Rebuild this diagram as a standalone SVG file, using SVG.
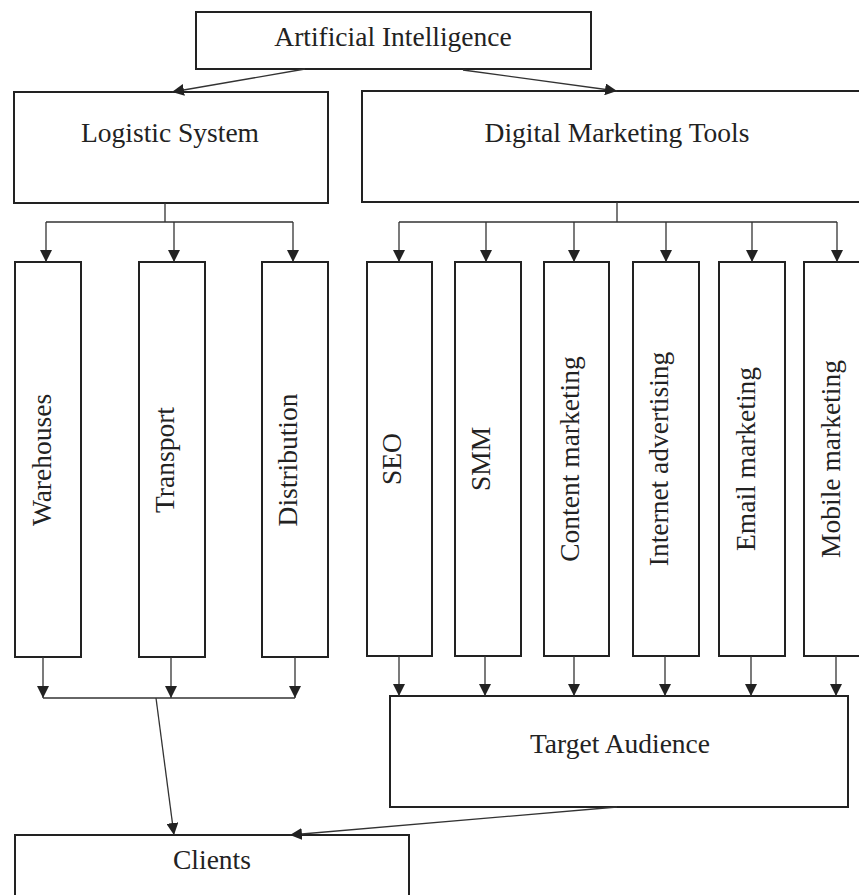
<svg xmlns="http://www.w3.org/2000/svg" width="859" height="895" viewBox="0 0 859 895">
<defs>
<style>
.box{fill:#fff;stroke:#222;stroke-width:2}
.lbl{font-family:"Liberation Serif","Times New Roman",serif;font-size:27.5px;fill:#222;text-anchor:middle}
.con{fill:none;stroke:#333;stroke-width:1.3}
.arr{marker-end:url(#ah)}
</style>
<marker id="ah" viewBox="0 0 12 12" refX="12" refY="6" markerWidth="12" markerHeight="12" markerUnits="userSpaceOnUse" orient="auto">
<path d="M0,0 L12,6 L0,12 z" fill="#222"/>
</marker>
</defs>
<rect width="859" height="895" fill="#fff"/>

<g id="ai"><rect class="box" x="196" y="12" width="395" height="57"/><text class="lbl" x="393" y="46">Artificial Intelligence</text></g>
<g id="logistic"><rect class="box" x="14" y="92" width="314" height="111"/><text class="lbl" x="170" y="142">Logistic System</text></g>
<g id="dmt"><rect class="box" x="362" y="91" width="510" height="111"/><text class="lbl" x="617" y="142">Digital Marketing Tools</text></g>

<g id="warehouses"><rect class="box" x="15" y="262" width="66" height="395"/><text class="lbl" transform="translate(51,460) rotate(-90)">Warehouses</text></g>
<g id="transport"><rect class="box" x="139" y="262" width="66" height="395"/><text class="lbl" transform="translate(174,460) rotate(-90)">Transport</text></g>
<g id="distribution"><rect class="box" x="262" y="262" width="66" height="395"/><text class="lbl" transform="translate(297,460) rotate(-90)">Distribution</text></g>

<g id="seo"><rect class="box" x="367" y="262" width="65" height="394"/><text class="lbl" transform="translate(401,459) rotate(-90)">SEO</text></g>
<g id="smm"><rect class="box" x="455" y="262" width="66" height="394"/><text class="lbl" transform="translate(490,459) rotate(-90)">SMM</text></g>
<g id="content"><rect class="box" x="544" y="262" width="65" height="394"/><text class="lbl" transform="translate(579,459) rotate(-90)">Content marketing</text></g>
<g id="internet"><rect class="box" x="633" y="262" width="66" height="394"/><text class="lbl" transform="translate(668,459) rotate(-90)">Internet advertising</text></g>
<g id="email"><rect class="box" x="719" y="262" width="66" height="394"/><text class="lbl" transform="translate(755,459) rotate(-90)">Email marketing</text></g>
<g id="mobile"><rect class="box" x="804" y="262" width="66" height="394"/><text class="lbl" transform="translate(840,459) rotate(-90)">Mobile marketing</text></g>

<g id="target"><rect class="box" x="390" y="696" width="458" height="111"/><text class="lbl" x="620" y="753">Target Audience</text></g>
<g id="clients"><rect class="box" x="15" y="835" width="394" height="80"/><text class="lbl" x="212" y="869">Clients</text></g>

<g id="connectors">
<path class="con arr" d="M305,69 L172,92"/>
<path class="con arr" d="M463,70 L617,91"/>
<path class="con" d="M165,203 V222 M46,222 H293"/>
<path class="con arr" d="M46,222 V262"/>
<path class="con arr" d="M174,222 V262"/>
<path class="con arr" d="M293,222 V262"/>
<path class="con" d="M617,202 V222 M399,222 H837"/>
<path class="con arr" d="M399,222 V262"/>
<path class="con arr" d="M486,222 V262"/>
<path class="con arr" d="M574,222 V262"/>
<path class="con arr" d="M666,222 V262"/>
<path class="con arr" d="M752,222 V262"/>
<path class="con arr" d="M837,222 V262"/>
<path class="con arr" d="M43,657 V698"/>
<path class="con arr" d="M171,657 V698"/>
<path class="con arr" d="M295,657 V698"/>
<path class="con" d="M43,698 H295"/>
<path class="con arr" d="M156,698 L174,835"/>
<path class="con arr" d="M399,656 V696"/>
<path class="con arr" d="M485,656 V696"/>
<path class="con arr" d="M574,656 V696"/>
<path class="con arr" d="M665,656 V696"/>
<path class="con arr" d="M751,656 V696"/>
<path class="con arr" d="M836,656 V696"/>
<path class="con arr" d="M617,807 L290,835"/>
</g>
</svg>
